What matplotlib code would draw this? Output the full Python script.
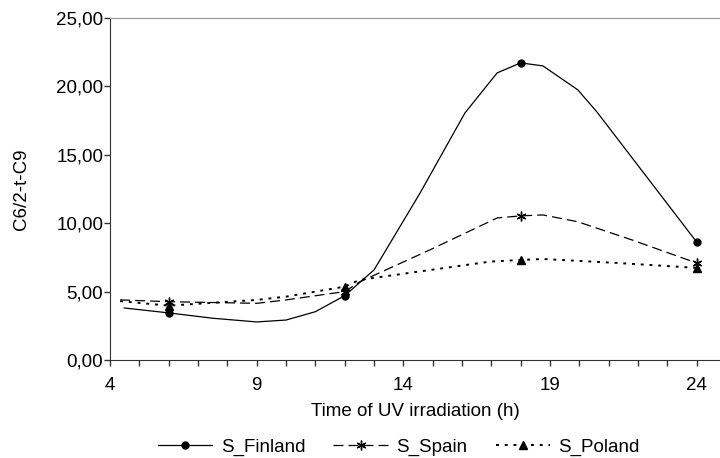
import matplotlib
matplotlib.use('Agg')
import matplotlib.pyplot as plt
from matplotlib.lines import Line2D
from matplotlib.ticker import FuncFormatter, MultipleLocator

plt.rcParams['font.family'] = ['Liberation Sans', 'DejaVu Sans']

# measured points
hours = [6, 12, 18, 24]
finland = [3.44, 4.70, 21.71, 8.63]
spain = [4.26, 5.00, 10.53, 7.09]
poland = [3.97, 5.36, 7.31, 6.73]

# smoothed curves
finland_cx = [4.48, 6, 7.5, 9.0, 10.0, 11.0, 12, 13.0, 14.57, 16.1, 17.2, 18, 18.76, 19.95, 20.6, 24]
finland_cy = [3.80, 3.44, 3.05, 2.78, 2.92, 3.53, 4.70, 6.58, 12.2, 18.05, 20.98, 21.71, 21.49, 19.74, 18.13, 8.63]
spain_cx = [4.34, 6, 9, 10, 12, 12.52, 14.9, 17.2, 18, 18.76, 19.95, 21.8, 24]
spain_cy = [4.39, 4.26, 4.14, 4.39, 5.00, 5.72, 8.04, 10.38, 10.53, 10.6, 10.1, 8.77, 7.09]
poland_cx = [4.34, 6, 9, 10, 12, 12.5, 16.96, 18, 18.76, 21.3, 24]
poland_cy = [4.30, 3.97, 4.39, 4.63, 5.36, 5.85, 7.19, 7.31, 7.38, 7.09, 6.73]

series = [
    ('S_Finland', finland_cx, finland_cy, finland, '-', 'o', 5),
    ('S_Spain', spain_cx, spain_cy, spain, (0, (8, 4)), (6, 2, 0), 7),
    ('S_Poland', poland_cx, poland_cy, poland, (0, (1.5, 3)), '^', 6),
]

fig = plt.figure(figsize=(7.2, 4.58), dpi=100)
ax = fig.add_axes([0.153, 0.214, 0.847, 0.747])

handles = []
for name, cx, cy, vals, ls, mk, ms in series:
    lw = 1.4 if name == 'S_Poland' else 0.9
    ax.plot(cx, cy, color='black', ls=ls, lw=lw)
    ax.plot(hours, vals, ls='none', marker=mk, ms=ms, color='black', mew=1)
    handles.append(Line2D([], [], color='black', ls=ls, lw=lw, marker=mk, ms=ms, mew=1, label=name))

ax.set_xlim(4, 24.8)
ax.set_ylim(0, 25)
ax.set_xticks(range(4, 25, 5))
ax.set_xticks(range(4, 25), minor=True)
ax.yaxis.set_major_locator(MultipleLocator(5))
ax.yaxis.set_major_formatter(FuncFormatter(lambda v, p: f'{v:.2f}'.replace('.', ',')))
ax.tick_params(axis='x', which='both', direction='out', length=4, width=1, color='#333333',
               labelsize=13.5, pad=8)
ax.tick_params(axis='y', direction='out', length=4, width=1, color='#333333', labelsize=13.5, pad=1)

ax.spines['right'].set_visible(False)
ax.spines['top'].set_color('#999999')
ax.spines['left'].set_color('#333333')
ax.spines['bottom'].set_color('#333333')

ax.set_xlabel('Time of UV irradiation (h)', fontsize=13.5, labelpad=7)
ax.set_ylabel('C6/2-t-C9', fontsize=13.5, labelpad=19)

fig.legend(handles=handles, loc='center', bbox_to_anchor=(0.554, 0.024), ncol=3,
           frameon=False, fontsize=13.5, handlelength=2.9, handletextpad=0.45,
           columnspacing=1.5, numpoints=1)

fig.savefig('out.png', dpi=100)
plt.close()
